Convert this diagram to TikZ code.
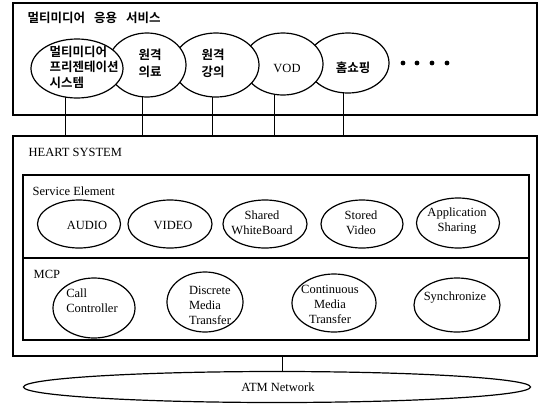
\documentclass[tikz,border=0pt]{standalone}
\usepackage{fontspec}
\setmainfont{Liberation Serif}
\newfontfamily\kr[BoldFont={Noto Sans CJK KR Bold}]{Noto Sans CJK KR}
\usetikzlibrary{shapes.geometric}
\pgfdeclarelayer{bg}
\pgfsetlayers{bg,main}
\begin{document}
\begin{tikzpicture}[x=1pt,y=-1pt, line width=1.3pt,
  box/.style={draw, rectangle, inner sep=0pt, outer sep=0pt, anchor=north west},
  ell/.style={draw, ellipse, fill=white, inner sep=0pt, outer sep=0pt, line width=1.2pt},
  lbl/.style={font=\fontsize{12.5}{15}\selectfont, align=center, inner sep=0pt},
  lbll/.style={font=\fontsize{12.5}{15}\selectfont, align=left, inner sep=0pt},
  krl/.style={font=\kr\bfseries\fontsize{12.5}{15.5}\selectfont, align=left, inner sep=0pt},
  ttl/.style={anchor=west, inner sep=0pt, font=\fontsize{12.5}{15}\selectfont},
  dot/.style={fill=black}]
\useasboundingbox (0,0) rectangle (546,405);

% boxes
\node[box, minimum width=524pt, minimum height=112pt] (apps) at (13,3) {};
\node[box, minimum width=524pt, minimum height=220pt] (heart) at (13,136) {};
\node[box, minimum width=506pt, minimum height=83pt] (se) at (23,175) {};
\node[box, minimum width=506pt, minimum height=82pt] (mcp) at (23,258) {};

% titles
\node[ttl, font=\kr\bfseries\fontsize{12.5}{15}\selectfont] (tapps) at (27,18) {멀티미디어\hspace{9pt}응용\hspace{9pt}서비스};
\node[ttl] (theart) at (28,152) {HEART SYSTEM};
\node[ttl] (tse) at (32,191) {Service Element};
\node[ttl] (tmcp) at (33,274) {MCP};

% application ellipses (left ones on top)
\node[ell, minimum width=82pt, minimum height=60pt] (e5) at (348,63) {};
\node[krl] (t5) at (353,68) {홈쇼핑};
\node[ell, minimum width=80pt, minimum height=62pt] (e4) at (283,64) {};
\node[lbl] (t4) at (287,68) {VOD};
\node[ell, minimum width=86pt, minimum height=64pt] (e3) at (216,65) {};
\node[krl, font=\kr\bfseries\fontsize{12.5}{17}\selectfont] (t3) at (213,63) {원격\\강의};
\node[ell, minimum width=78pt, minimum height=64pt] (e2) at (147,65) {};
\node[krl, font=\kr\bfseries\fontsize{12.5}{17}\selectfont] (t2) at (150,63) {원격\\의료};
\node[ell, minimum width=92pt, minimum height=59pt] (e1) at (77,68.5) {};
\node[krl] (t1) at (84,67) {멀티미디어\\프리젠테이션\\시스템};

\fill[dot] (403,63) circle (2.4pt);
\fill[dot] (417,63) circle (2.4pt);
\fill[dot] (432,63) circle (2.4pt);
\fill[dot] (447,63) circle (2.4pt);

% connectors to HEART system
\begin{pgfonlayer}{bg}
\draw ([xshift=-12pt]e1.center) -- ([xshift=-12pt]e1.center |- heart.north);
\draw ([xshift=-5pt]e2.center) -- ([xshift=-5pt]e2.center |- heart.north);
\draw ([xshift=-4pt]e3.center) -- ([xshift=-4pt]e3.center |- heart.north);
\draw ([xshift=-9pt]e4.center) -- ([xshift=-9pt]e4.center |- heart.north);
\draw ([xshift=-5pt]e5.center) -- ([xshift=-5pt]e5.center |- heart.north);
\end{pgfonlayer}

% service elements
\node[ell, minimum width=83pt, minimum height=48pt] (audio) at (79,224) {};
\node[lbl] (taudio) at (87,225) {AUDIO};
\node[ell, minimum width=84pt, minimum height=48pt] (video) at (170,224) {};
\node[lbl] (tvideo) at (173,225) {VIDEO};
\node[ell, minimum width=84pt, minimum height=48pt] (swb) at (265,224) {};
\node[lbl] (tswb) at (262,223) {Shared\\WhiteBoard};
\node[ell, minimum width=82pt, minimum height=48pt] (sv) at (362,224) {};
\node[lbl] (tsv) at (361,223) {Stored\\Video};
\node[ell, minimum width=83pt, minimum height=50pt] (as) at (458,223) {};
\node[lbl] (tas) at (457,221) {Application\\Sharing};

% MCP
\node[ell, minimum width=82pt, minimum height=60pt] (cc) at (94,308) {};
\node[lbll] (tcc) at (92,301) {Call\\Controller};
\node[ell, minimum width=76pt, minimum height=60pt] (dmt) at (205,302) {};
\node[lbll] (tdmt) at (210,305) {Discrete\\Media\\Transfer};
\node[ell, minimum width=84pt, minimum height=58pt] (cmt) at (334,303) {};
\node[lbl] (tcmt) at (330,304) {Continuous\\Media\\Transfer};
\node[ell, minimum width=86pt, minimum height=54pt] (sync) at (457,305) {};
\node[lbl] (tsync) at (455,298) {Synchronize};

% ATM
\node[ell, minimum width=507pt, minimum height=31pt] (atm) at (277,387) {};
\node[lbl] (tatm) at (278,387) {ATM Network};
\draw ([xshift=7pt]heart.south) -- ([xshift=7pt]heart.south |- atm.north);
\end{tikzpicture}
\end{document}
